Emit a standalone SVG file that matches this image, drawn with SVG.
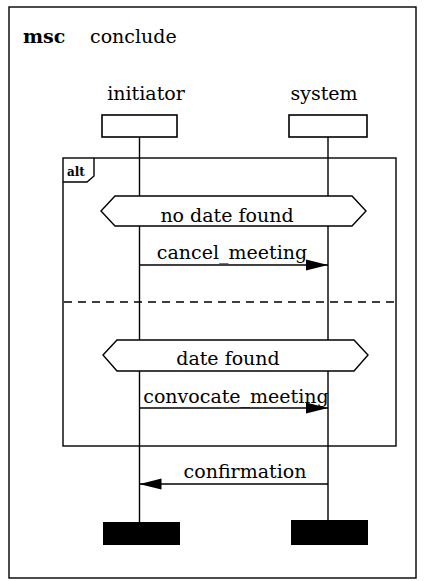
<svg xmlns="http://www.w3.org/2000/svg" width="427" height="581" viewBox="0 0 427 581">
<style>
text{font-family:"DejaVu Serif","Liberation Serif",serif;font-size:19px;fill:#000}
.b{font-weight:bold}
.ln{stroke:#000;stroke-width:1.4;fill:none}
.box{stroke:#000;stroke-width:1.6;fill:#fff}
.hex{stroke:#000;stroke-width:1.4;fill:#fff}
.end{fill:#000}
</style>
<defs>
<marker id="ah" markerWidth="22" markerHeight="12" refX="22" refY="6" orient="auto" markerUnits="userSpaceOnUse">
<path d="M0,0.5 L22,6 L0,11.5 Z" fill="#000"/>
</marker>
</defs>
<rect width="427" height="581" fill="#fff"/>
<g id="frame">
<rect x="9" y="7" width="407" height="571" class="ln" stroke-width="1.6"/>
<text x="23" y="43" class="b">msc</text>
<text x="90" y="43">conclude</text>
</g>
<g id="lifelines">
<line x1="139.5" y1="137" x2="139.5" y2="522" class="ln"/>
<line x1="328" y1="137" x2="328" y2="521" class="ln"/>
</g>
<g id="initiator">
<text x="146" y="100" text-anchor="middle">initiator</text>
<rect x="102" y="115" width="75" height="22" class="box"/>
<rect x="103" y="522" width="77" height="23" class="end"/>
</g>
<g id="system">
<text x="324" y="100" text-anchor="middle">system</text>
<rect x="289" y="115" width="78" height="22" class="box"/>
<rect x="291" y="520" width="77" height="25" class="end"/>
</g>
<g id="alt">
<rect x="63" y="158" width="333" height="288" class="ln"/>
<path d="M63,182 L87,182 L94,176 L94,158" class="ln"/>
<text x="67" y="176" class="b" style="font-size:12px">alt</text>
<line x1="64" y1="302" x2="395" y2="302" class="ln" stroke-dasharray="8,6"/>
</g>
<g id="cond-no-date">
<polygon points="101,211 115,196 352,196 366,211 352,226 115,226" class="hex"/>
<text x="227" y="222" text-anchor="middle">no date found</text>
</g>
<g id="cond-date">
<polygon points="103,355 117,340 354,340 368,355 354,371 117,371" class="hex"/>
<text x="228" y="365" text-anchor="middle">date found</text>
</g>
<g id="connectors">
<line x1="139.5" y1="265" x2="328" y2="265" class="ln" marker-end="url(#ah)"/>
<text x="232" y="259" text-anchor="middle">cancel_meeting</text>
<line x1="139.5" y1="408" x2="328" y2="408" class="ln" marker-end="url(#ah)"/>
<text x="236" y="403" text-anchor="middle">convocate_meeting</text>
<line x1="328" y1="484" x2="139.5" y2="484" class="ln" marker-end="url(#ah)"/>
<text x="245" y="478" text-anchor="middle">confirmation</text>
</g>
</svg>
